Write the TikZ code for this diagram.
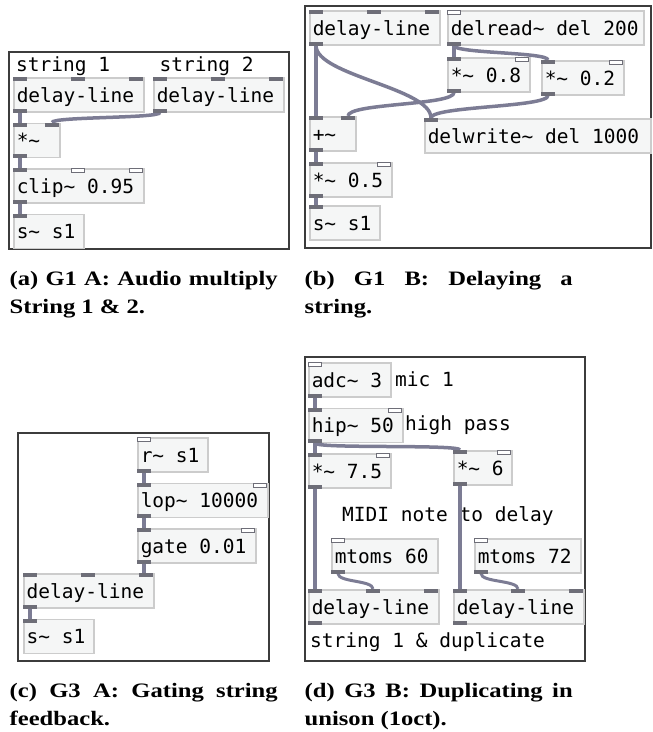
\documentclass[tikz,border=0pt]{standalone}
\usepackage{fontspec}
\usepackage{tikz}
\usetikzlibrary{positioning}
\newfontfamily\pdfont{DejaVu Sans Mono}
\newfontfamily\capfont[FakeStretch=1.2]{Liberation Serif}
\definecolor{boxfill}{RGB}{245,246,246}
\definecolor{boxline}{RGB}{204,204,204}
\definecolor{portgray}{RGB}{110,110,120}
\definecolor{cordgray}{RGB}{124,124,148}
\definecolor{framegray}{RGB}{60,60,60}
\tikzset{
  obj/.style={draw=boxline, fill=boxfill, line width=1.5pt, anchor=north west,
    inner xsep=3pt, inner ysep=0pt, minimum height=34pt, text width=#1,
    text height=17pt, text depth=2pt, align=justify,
    font=\pdfont\fontsize{19.5}{24}\selectfont},
  comment/.style={anchor=base west, inner sep=0pt,
    font=\pdfont\fontsize{19.5}{24}\selectfont},
  port/.style={fill=portgray},
  ctlport/.style={draw=portgray, fill=white, line width=1.2pt},
  sig/.style={draw=cordgray, line width=3.5pt},
  ctl/.style={draw=cordgray, line width=3pt},
  frame/.style={draw=framegray, line width=1.2pt},
  capt/.style={anchor=base west, inner sep=0pt, text width=268pt, align=justify,
    font=\capfont\bfseries\fontsize{20.5}{28.5}\selectfont},
}
% inlets and outlets of a pd box
\newcommand{\sigin}[2]{\fill[port] ([xshift=#2pt]#1.north west) rectangle +(14pt,-4pt);}
\newcommand{\ctlin}[2]{\draw[ctlport] ([xshift=#2pt, xshift=0.6pt, yshift=-0.6pt]#1.north west) rectangle +(12.8pt,-4pt);}
\newcommand{\sigout}[1]{\fill[port] (#1.south west) rectangle +(14pt,4pt);}

\begin{document}
\begin{tikzpicture}[x=1pt, y=-1pt]
    \useasboundingbox (0,0) rectangle (653,732);

    % (a) multiply two strings
    \draw[frame] (9,52) rectangle (289,249);
    \node[comment] (stra) at (16,71) {string 1};
    \node[comment] (strb) at (159.5,71) {string 2};
    \node[obj=124pt] (dla) at (13,77) {delay-line};
    \node[obj=124pt] (dlb) at (153,77) {delay-line};
    \node[obj=40pt, below right=10pt and 0pt of dla.south west] (mula) {*\textasciitilde};
    \node[obj=124pt, below right=10pt and 0pt of mula.south west] (clip) {clip\textasciitilde{} 0.95};
    \node[obj=64pt, below right=10pt and 0pt of clip.south west] (snda) {s\textasciitilde{} s1};

    % (b) delay
    \draw[frame] (305,6) rectangle (651,248);
    \node[obj=124pt] (dlc) at (309,10) {delay-line};
    \node[obj=190pt] (delrd) at (447,10) {delread\textasciitilde{} del 200};
    \node[obj=76pt] (mulb) at (447,57) {*\textasciitilde{} 0.8};
    \node[obj=76pt] (mulc) at (541,60) {*\textasciitilde{} 0.2};
    \node[obj=40pt] (addb) at (309,116) {+\textasciitilde};
    \node[obj=220pt] (delwr) at (424,118) {delwrite\textasciitilde{} del 1000};
    \node[obj=76pt] (muld) at (309,162) {*\textasciitilde{} 0.5};
    \node[obj=64pt] (sndb) at (309,205) {s\textasciitilde{} s1};

    % (c) gate
    \draw[frame] (18,433) rectangle (269,661);
    \node[obj=64pt] (rcv) at (137,437) {r\textasciitilde{} s1};
    \node[obj=124pt, below right=10pt and 0pt of rcv.south west] (lop) {lop\textasciitilde{} 10000};
    \node[obj=112pt, below right=10pt and 0pt of lop.south west] (gate) {gate 0.01};
    \node[obj=124pt] (dle) at (23,573) {delay-line};
    \node[obj=64pt, below right=10pt and 0pt of dle.south west] (snde) {s\textasciitilde{} s1};

    % (d) duplicate
    \draw[frame] (305,357) rectangle (585,661);
    \node[obj=76pt] (adc) at (308,362) {adc\textasciitilde{} 3};
    \node[comment] (mic) at (395,386.5) {mic 1};
    \node[obj=88pt, below right=10pt and 0pt of adc.south west] (hip) {hip\textasciitilde{} 50};
    \node[comment] (hpass) at (405,430.5) {high pass};
    \node[obj=76pt, below right=10pt and 0pt of hip.south west] (mulf) {*\textasciitilde{} 7.5};
    \node[obj=52pt] (mulg) at (453,450) {*\textasciitilde{} 6};
    \node[comment] (midi) at (342,521.5) {MIDI note to delay};
    \node[obj=100pt] (mta) at (331,538) {mtoms 60};
    \node[obj=100pt] (mtb) at (474,538) {mtoms 72};
    \node[obj=124pt] (dlf) at (308,589) {delay-line};
    \node[obj=124pt] (dlg) at (453,589) {delay-line};
    \node[comment] (dup) at (310,647) {string 1 \& duplicate};

    % cords
    \draw[sig] ([xshift=7pt]dla.south west) -- ([xshift=7pt]mula.north west);
    \draw[sig] ([xshift=7pt]dlb.south west) .. controls +(0pt,-6pt) and +(0pt,6pt) .. ([xshift=39pt]mula.north west);
    \draw[sig] ([xshift=7pt]mula.south west) -- ([xshift=7pt]clip.north west);
    \draw[sig] ([xshift=7pt]clip.south west) -- ([xshift=7pt]snda.north west);

    \draw[sig] ([xshift=7pt]dlc.south west) -- ([xshift=7pt]addb.north west);
    \draw[sig] ([xshift=7pt]dlc.south west) .. controls +(0pt,-30pt) and +(0pt,30pt) .. ([xshift=7pt]delwr.north west);
    \draw[sig] ([xshift=7pt]delrd.south west) -- ([xshift=7pt]mulb.north west);
    \draw[sig] ([xshift=7pt]delrd.south west) .. controls +(0pt,-8pt) and +(0pt,8pt) .. ([xshift=7pt]mulc.north west);
    \draw[sig] ([xshift=7pt]mulb.south west) .. controls +(0pt,-13pt) and +(0pt,13pt) .. ([xshift=39pt]addb.north west);
    \draw[sig] ([xshift=7pt]mulc.south west) .. controls +(0pt,-12pt) and +(0pt,12pt) .. ([xshift=7pt]delwr.north west);
    \draw[sig] ([xshift=7pt]addb.south west) -- ([xshift=7pt]muld.north west);
    \draw[sig] ([xshift=7pt]muld.south west) -- ([xshift=7pt]sndb.north west);

    \draw[sig] ([xshift=7pt]rcv.south west) -- ([xshift=7pt]lop.north west);
    \draw[sig] ([xshift=7pt]lop.south west) -- ([xshift=7pt]gate.north west);
    \draw[sig] ([xshift=7pt]gate.south west) -- ([xshift=121pt]dle.north west);
    \draw[sig] ([xshift=7pt]dle.south west) -- ([xshift=7pt]snde.north west);

    \draw[sig] ([xshift=7pt]adc.south west) -- ([xshift=7pt]hip.north west);
    \draw[sig] ([xshift=7pt]hip.south west) -- ([xshift=7pt]mulf.north west);
    \draw[sig] ([xshift=7pt]hip.south west) .. controls +(0pt,-6pt) and +(0pt,6pt) .. ([xshift=7pt]mulg.north west);
    \draw[sig] ([xshift=7pt]mulf.south west) -- ([xshift=7pt]dlf.north west);
    \draw[sig] ([xshift=7pt]mulg.south west) -- ([xshift=7pt]dlg.north west);
    \draw[ctl] ([xshift=7pt]mta.south west) .. controls +(0pt,-9pt) and +(0pt,9pt) .. ([xshift=65pt]dlf.north west);
    \draw[ctl] ([xshift=7pt]mtb.south west) .. controls +(0pt,-9pt) and +(0pt,9pt) .. ([xshift=65pt]dlg.north west);

    % ports
    \foreach \n in {dla,dlb,dlc,dle,dlf,dlg} {\sigin{\n}{0} \sigin{\n}{58} \sigin{\n}{116} \sigout{\n}}
    \sigin{mula}{0} \sigin{mula}{32} \sigout{mula}
    \sigin{clip}{0} \ctlin{clip}{58} \ctlin{clip}{116} \sigout{clip}
    \sigin{snda}{0}
    \ctlin{delrd}{0} \sigout{delrd}
    \foreach \n in {mulb,mulc,muld,mulf} {\sigin{\n}{0} \ctlin{\n}{68} \sigout{\n}}
    \sigin{addb}{0} \sigin{addb}{32} \sigout{addb}
    \sigin{delwr}{0}
    \sigin{sndb}{0}
    \ctlin{rcv}{0} \sigout{rcv}
    \sigin{lop}{0} \ctlin{lop}{116} \sigout{lop}
    \sigin{gate}{0} \ctlin{gate}{104} \sigout{gate}
    \sigin{snde}{0}
    \ctlin{adc}{0} \sigout{adc}
    \sigin{hip}{0} \ctlin{hip}{80} \sigout{hip}
    \sigin{mulg}{0} \ctlin{mulg}{44} \sigout{mulg}
    \ctlin{mta}{0} \sigout{mta}
    \ctlin{mtb}{0} \sigout{mtb}

    % captions
    \node[capt] (capa) at (9.5,285) {(a) G1 A: Audio multiply\linebreak String 1 \& 2.};
    \node[capt] (capb) at (304.5,285) {(b) G1 B: Delaying a\linebreak string.};
    \node[capt] (capc) at (9.5,697) {(c) G3 A: Gating string\linebreak feedback.};
    \node[capt] (capd) at (304.5,697) {(d) G3 B: Duplicating in\linebreak unison (1oct).};
\end{tikzpicture}
\end{document}
